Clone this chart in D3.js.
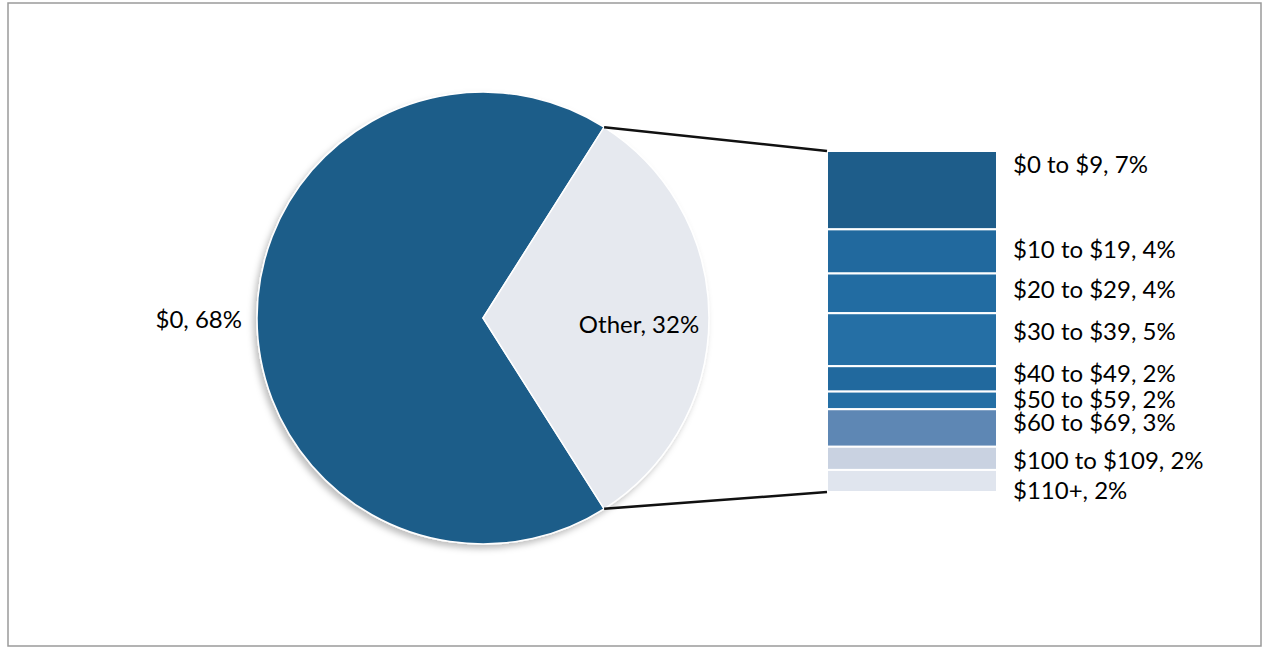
<!DOCTYPE html>
<html>
  <head>
    <style>
      body {
        margin: 0;
        background: #fff;
      }
      .label {
        font-family: Lato, "Open Sans", sans-serif;
        font-size: 24px;
        fill: #000;
        dominant-baseline: central;
      }
      .frame {
        fill: none;
        stroke: #9a9a9a;
        stroke-width: 1.5;
      }
      .connector {
        stroke: #111;
        stroke-width: 2.5;
      }
    </style>
  </head>
  <body>
    <div id="chart"></div>

    <script src="https://d3js.org/d3.v7.min.js"></script>
    <script>
      // main pie
      const pieNames = ["$0", "Other"];
      const pieValues = [68, 32];
      const pieColors = ["#1e5d89", "#e6e9ef"];

      // breakdown of "Other" into the bar
      const barNames = [
        "$0 to $9",
        "$10 to $19",
        "$20 to $29",
        "$30 to $39",
        "$40 to $49",
        "$50 to $59",
        "$60 to $69",
        "$100 to $109",
        "$110+",
      ];
      const barValues = [7.1, 4.0, 3.6, 4.8, 2.3, 1.6, 3.4, 2.1, 2.0];
      const barColors = [
        "#1e5d8a",
        "#21699e",
        "#226ca2",
        "#256fa5",
        "#21699e",
        "#246fa5",
        "#5e87b4",
        "#c9d2e1",
        "#e0e5ee",
      ];
      // label shifts (px) relative to segment centre, like Excel's placement
      const labelShift = [-27, -3, -5, -9, -6, -2, -6, 1, 9];

      const W = 1263,
        H = 649;
      const svg = d3
        .select("#chart")
        .append("svg")
        .attr("width", W)
        .attr("height", H);

      const defs = svg.append("defs");
      const f = defs
        .append("filter")
        .attr("id", "shadow")
        .attr("x", "-10%")
        .attr("y", "-10%")
        .attr("width", "120%")
        .attr("height", "120%");
      f.append("feDropShadow")
        .attr("dx", -3)
        .attr("dy", 4)
        .attr("stdDeviation", 3)
        .attr("flood-color", "#000")
        .attr("flood-opacity", 0.25);

      svg
        .append("rect")
        .attr("class", "frame")
        .attr("x", 8)
        .attr("y", 3)
        .attr("width", 1253)
        .attr("height", 643);

      // pie geometry
      const cx = 483,
        cy = 318,
        r = 226;
      const otherShare = pieValues[1] / d3.sum(pieValues);
      const otherStart = Math.PI / 2 - otherShare * Math.PI;
      const pie = d3
        .pie()
        .sort(null)
        .startAngle(otherStart - (1 - otherShare) * 2 * Math.PI)
        .endAngle(otherStart + otherShare * 2 * Math.PI);
      const arcs = pie(pieValues);
      const arc = d3.arc().innerRadius(0).outerRadius(r);

      const pg = svg
        .append("g")
        .attr("transform", "translate(" + cx + "," + cy + ")");
      pg.append("g")
        .attr("filter", "url(#shadow)")
        .selectAll("path")
        .data(arcs)
        .enter()
        .append("path")
        .attr("d", arc)
        .attr("fill", (d, i) => pieColors[i])
        .attr("stroke", "#fff")
        .attr("stroke-width", 1.5);

      // pie labels
      pg.append("text")
        .attr("class", "label")
        .attr("x", -r - 15)
        .attr("y", 0)
        .attr("text-anchor", "end")
        .text(pieNames[0] + ", " + pieValues[0] + "%");
      const oc = arc.centroid(arcs[1]);
      pg.append("text")
        .attr("class", "label")
        .attr("x", oc[0] + 43)
        .attr("y", oc[1] + 5)
        .attr("text-anchor", "middle")
        .text(pieNames[1] + ", " + pieValues[1] + "%");

      // stacked bar
      const barX = 827,
        barW = 170;
      const y = d3
        .scaleLinear()
        .domain([0, d3.sum(barValues)])
        .range([151, 492]);
      const cum = d3.cumsum(barValues);
      const segs = barValues.map((v, i) => ({
        name: barNames[i],
        value: v,
        y0: i === 0 ? 0 : cum[i - 1],
        y1: cum[i],
      }));

      svg
        .append("g")
        .selectAll("rect")
        .data(segs)
        .enter()
        .append("rect")
        .attr("x", barX)
        .attr("width", barW)
        .attr("y", (d) => y(d.y0))
        .attr("height", (d) => y(d.y1) - y(d.y0))
        .attr("fill", (d, i) => barColors[i])
        .attr("stroke", "#fff")
        .attr("stroke-width", 2);

      svg
        .append("g")
        .selectAll("text")
        .data(segs)
        .enter()
        .append("text")
        .attr("class", "label")
        .attr("x", barX + barW + 16)
        .attr("y", (d, i) => (y(d.y0) + y(d.y1)) / 2 + labelShift[i])
        .text((d) => d.name + ", " + Math.round(d.value) + "%");

      // connector lines from the Other slice to the bar
      const rim = (a) => [cx + r * Math.sin(a), cy - r * Math.cos(a)];
      const pTop = rim(arcs[1].startAngle);
      const pBot = rim(arcs[1].endAngle);
      svg
        .append("line")
        .attr("class", "connector")
        .attr("x1", pTop[0])
        .attr("y1", pTop[1])
        .attr("x2", barX)
        .attr("y2", y.range()[0]);
      svg
        .append("line")
        .attr("class", "connector")
        .attr("x1", pBot[0])
        .attr("y1", pBot[1])
        .attr("x2", barX)
        .attr("y2", y.range()[1]);
    </script>
  </body>
</html>
